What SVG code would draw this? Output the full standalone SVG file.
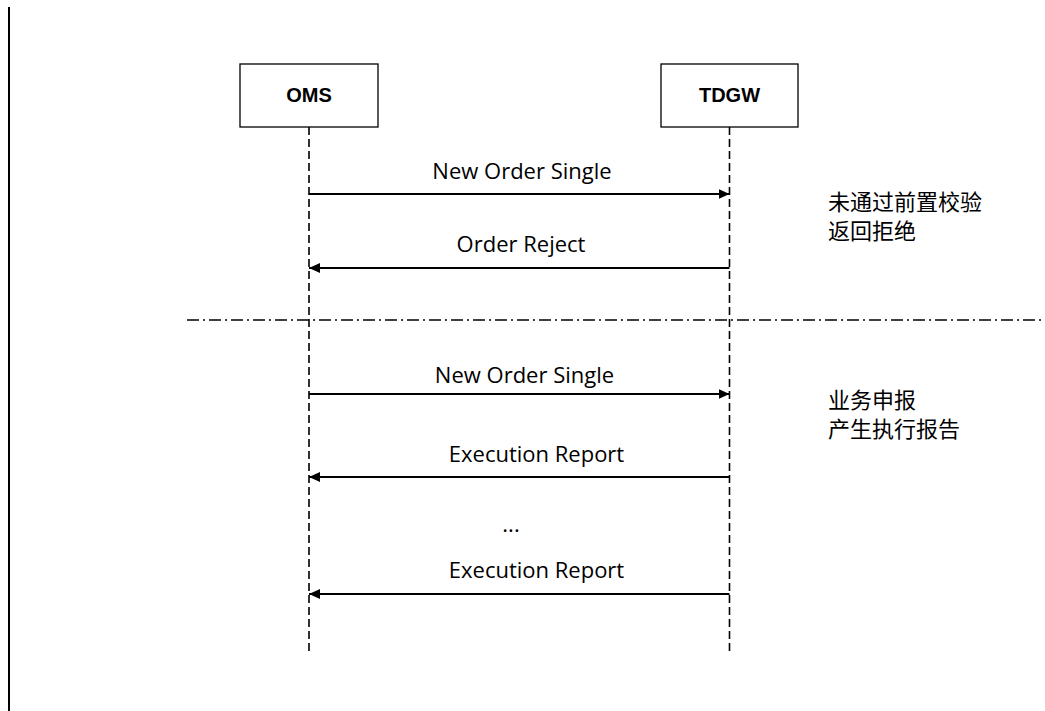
<svg xmlns="http://www.w3.org/2000/svg" width="1045" height="711" viewBox="0 0 1045 711">
<style>
.box{fill:#fff;stroke:#000;stroke-width:1.3}
.bt{font-family:"Liberation Sans",Arial,sans-serif;font-weight:bold;font-size:20px;fill:#000;text-anchor:middle}
.life{stroke:#000;stroke-width:1.6;stroke-dasharray:8 4;fill:none}
.msg{stroke:#000;stroke-width:2;fill:none}
.lbl{font-family:"Open Sans","Liberation Sans",sans-serif;font-size:22px;fill:#000;text-anchor:middle}
.cn{font-family:"Noto Sans CJK SC","Noto Sans",sans-serif;font-size:22px;fill:#000}
</style>
<defs>
<marker id="ah" viewBox="0 0 11 10" refX="11" refY="5" markerWidth="11" markerHeight="10" markerUnits="userSpaceOnUse" orient="auto">
<path d="M0,0 L11,5 L0,10 Z" fill="#000"/>
</marker>
</defs>
<rect width="1045" height="711" fill="#fff"/>
<line x1="9" y1="7" x2="9" y2="711" stroke="#000" stroke-width="2"/>
<g id="oms">
<rect class="box" x="240" y="64" width="138" height="63"/>
<text class="bt" x="309" y="102">OMS</text>
</g>
<g id="tdgw">
<rect class="box" x="661" y="64" width="137" height="63"/>
<text class="bt" x="729.5" y="102">TDGW</text>
</g>
<g id="connectors">
<line class="life" x1="309" y1="127" x2="309" y2="654"/>
<line class="life" x1="729.5" y1="127" x2="729.5" y2="654"/>
<line x1="187" y1="320" x2="1045" y2="320" stroke="#000" stroke-width="1.5" stroke-dasharray="12 4 2 4"/>
<line class="msg" x1="309" y1="194" x2="729.5" y2="194" marker-end="url(#ah)"/>
<line class="msg" x1="729.5" y1="268" x2="309" y2="268" marker-end="url(#ah)"/>
<line class="msg" x1="309" y1="394" x2="729.5" y2="394" marker-end="url(#ah)"/>
<line class="msg" x1="729.5" y1="477" x2="309" y2="477" marker-end="url(#ah)"/>
<line class="msg" x1="729.5" y1="594" x2="309" y2="594" marker-end="url(#ah)"/>
</g>
<g id="labels">
<text class="lbl" x="522" y="179">New Order Single</text>
<text class="lbl" x="521" y="252">Order Reject</text>
<text class="lbl" x="524.5" y="383">New Order Single</text>
<text class="lbl" x="536.5" y="462">Execution Report</text>
<text class="lbl" x="511" y="532">...</text>
<text class="lbl" x="536.5" y="578">Execution Report</text>
<text class="cn" x="828" y="209.5">未通过前置校验</text>
<text class="cn" x="828" y="238.5">返回拒绝</text>
<text class="cn" x="828" y="408">业务申报</text>
<text class="cn" x="828" y="437">产生执行报告</text>
</g>
</svg>
